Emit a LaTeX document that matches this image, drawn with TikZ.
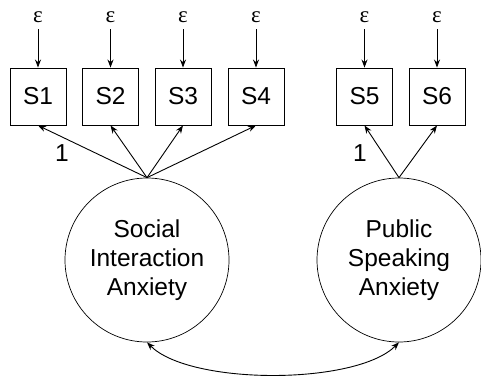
\documentclass[tikz,border=0pt]{standalone}
\usepackage{fontspec}
\setmainfont{Liberation Sans}
\newfontfamily\epsfont{Liberation Serif}
\usetikzlibrary{arrows.meta}
\begin{document}
\begin{tikzpicture}[x=1pt,y=-1pt,
  obs/.style={draw,line width=0.9pt,minimum width=56pt,minimum height=57pt,inner sep=0pt,font=\fontsize{24.5}{28}\selectfont},
  lat/.style={draw,circle,line width=0.7pt,minimum size=164pt,inner sep=0pt,align=center,font=\fontsize{24.5}{29}\selectfont},
  err/.style={inner sep=0pt,font=\epsfont\fontsize{23}{28}\selectfont},
  lbl/.style={inner sep=0pt,font=\fontsize{24.5}{28}\selectfont},
  arr/.style={line width=0.9pt,-{Stealth[length=8pt,width=6pt]}},
  dbl/.style={line width=0.9pt,{Stealth[length=8pt,width=6pt]}-{Stealth[length=8pt,width=6pt]}}]
\useasboundingbox (0,0) rectangle (481,380);
% observed
\node[obs] (s1) at (38,96.5) {S1};
\node[obs] (s2) at (110.5,96.5) {S2};
\node[obs] (s3) at (183,96.5) {S3};
\node[obs] (s4) at (256,96.5) {S4};
\node[obs] (s5) at (364.5,96.5) {S5};
\node[obs] (s6) at (437,96.5) {S6};
% errors
\foreach \s in {1,...,6}{
  \path (s\s.north) ++(0,-50) node[err] (e\s) {ε};
  \draw[arr] (e\s.south) ++(0,6) coordinate (c\s) (c\s) -- (s\s.north);
}
% latent
\node[lat] (sia) at (147,260) {Social\\Interaction\\Anxiety};
\node[lat] (psa) at (399,260) {Public\\Speaking\\Anxiety};
\foreach \s in {1,2,3,4}{\draw[arr] (sia.north) -- (s\s.south);}
\foreach \s in {5,6}{\draw[arr] (psa.north) -- (s\s.south);}
\node[lbl] (l1) at (62,153) {1};
\node[lbl] (l2) at (360,153) {1};
\draw[dbl] (sia.south) .. controls +(43,43) and +(-43,43) .. (psa.south);
\end{tikzpicture}
\end{document}
